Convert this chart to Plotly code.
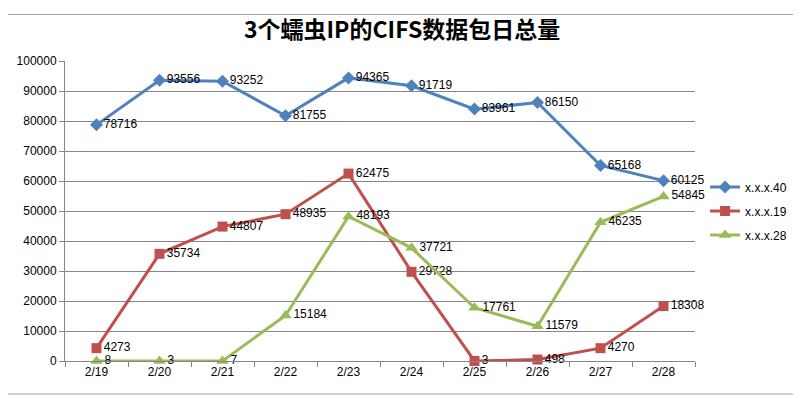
import plotly.graph_objects as go

categories = ["2/19", "2/20", "2/21", "2/22", "2/23", "2/24", "2/25", "2/26", "2/27", "2/28"]
s40 = [78716, 93556, 93252, 81755, 94365, 91719, 83961, 86150, 65168, 60125]
s19 = [4273, 35734, 44807, 48935, 62475, 29728, 3, 498, 4270, 18308]
s28 = [8, 3, 7, 15184, 48193, 37721, 17761, 11579, 46235, 54845]
series_names = ["x.x.x.40", "x.x.x.19", "x.x.x.28"]
y_ticks = list(range(0, 100001, 10000))

colors = ["#4F81BD", "#C0504D", "#9BBB59"]
symbols = ["diamond", "square", "triangle-up"]
sizes = [10, 10, 11]

fig = go.Figure()
for name, vals, c, sym, sz in zip(series_names, [s40, s19, s28], colors, symbols, sizes):
    fig.add_trace(go.Scatter(
        x=categories, y=vals, name=name, legendgroup=name,
        mode="lines+markers+text",
        line=dict(color=c, width=3),
        marker=dict(symbol=sym, size=sz, color=c),
        text=[str(v) for v in vals], textposition="middle right",
        textfont=dict(family="Liberation Sans, Arial", size=12, color="#000000"),
        cliponaxis=False,
    ))

fig.update_layout(
    width=793, height=390,
    margin=dict(l=57, r=106, t=53, b=37, autoexpand=False),
    paper_bgcolor="white", plot_bgcolor="white",
    title=dict(text="<b>3个蠕虫IP的CIFS数据包日总量</b>", x=0.497, xanchor="center",
               y=0.944, yanchor="middle",
               font=dict(family="Noto Sans CJK SC", size=23, color="#000000")),
    xaxis=dict(type="category", range=[-0.5, 9.5], showgrid=False, automargin=False,
               showline=True, linecolor="#868686", linewidth=1,
               ticks="outside", tickson="boundaries", ticklen=5, tickcolor="#868686",
               tickfont=dict(family="Liberation Sans, Arial", size=12, color="#000000")),
    yaxis=dict(range=[0, 100000], tickvals=y_ticks, ticktext=[str(v) for v in y_ticks],
               showgrid=True, gridcolor="#868686", automargin=False,
               gridwidth=1, showline=True, linecolor="#868686", ticks="outside",
               ticklen=5, tickcolor="#868686", zeroline=False,
               tickfont=dict(family="Liberation Sans, Arial", size=12, color="#000000")),
    legend=dict(x=1.016, y=0.5, xanchor="left", yanchor="middle",
                font=dict(family="Liberation Sans, Arial", size=12, color="#000000"),
                itemwidth=30, tracegroupgap=5),
    shapes=[dict(type="rect", xref="paper", yref="paper", x0=-0.092, x1=1.158, y0=-0.11, y1=1.155,
                 line=dict(color="#A6A6A6", width=1))],
)

fig.write_html("out.html")
